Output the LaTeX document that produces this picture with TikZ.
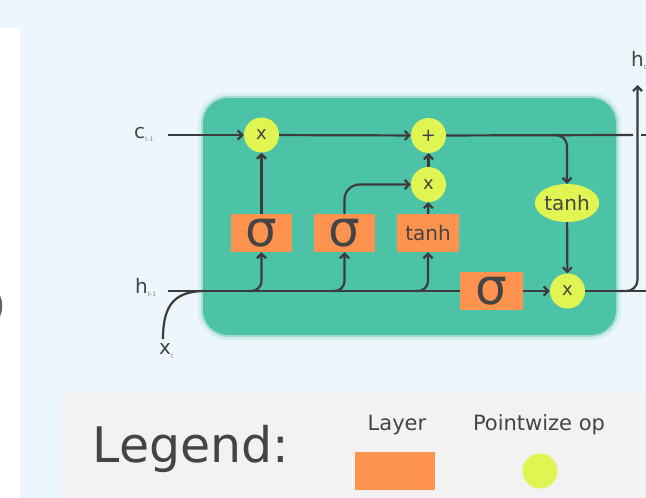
\documentclass[tikz,border=0pt]{standalone}
\usepackage{fontspec}
\setmainfont{DejaVu Sans}
\usetikzlibrary{arrows.meta,shapes.geometric}
\definecolor{bg}{HTML}{EEF6FD}
\definecolor{cellg}{HTML}{4CC2A6}
\definecolor{halo}{HTML}{A6DDD0}
\definecolor{halo2}{HTML}{D6F0EC}
\definecolor{opy}{HTML}{E1F552}
\definecolor{layo}{HTML}{FE9350}
\definecolor{ln}{HTML}{3C3C3C}
\definecolor{txt}{HTML}{444444}
\definecolor{legbg}{HTML}{F2F2F2}
\tikzset{
  wire/.style={draw=ln, line width=2.2pt},
  arr/.style={wire, -{Straight Barb[length=4.5pt,width=9pt]}},
  pw/.style={circle, fill=opy, minimum size=35pt, inner sep=0pt, text=txt, font=\fontsize{18}{18}\selectfont},
  layerbox/.style={rectangle, fill=layo, minimum width=61pt, minimum height=38pt, inner sep=0pt, text=txt},
  sig/.style={layerbox, font=\fontsize{50}{50}\selectfont},
  tnh/.style={layerbox, font=\fontsize{20}{20}\selectfont},
  lbl/.style={text=txt, inner sep=0pt, font=\fontsize{20}{20}\selectfont},
  subs/.style={font=\fontsize{6}{6}\selectfont, text=gray}
}
\begin{document}
\begin{tikzpicture}[x=1pt,y=-1pt]
\useasboundingbox (0,0) rectangle (646,498);
\clip (0,0) rectangle (646,498);
\fill[bg] (0,0) rectangle (646,498);
% white strip and arc of neighbouring panel
\fill[white] (0,28) rectangle (20,498);
\draw[ln, line width=2.5pt, opacity=0.8] (-24,306) circle (25);
% cell body
\fill[halo2, rounded corners=29] (198,93) rectangle (621,340);
\fill[halo, rounded corners=27] (201,96) rectangle (618,337);
\fill[cellg, rounded corners=25] (203,98) rectangle (616,335);
% legend panel
\fill[legbg, rounded corners=12] (62,392) rectangle (700,560);
% nodes
\node[pw] (m1) at (261.5,135) {x};
\node[pw] (plus) at (428.5,135.5) {+};
\node[pw] (m2) at (428.5,184.5) {x};
\node[pw] (m3) at (567.5,291) {x};
\node[ellipse, fill=opy, minimum width=62pt, minimum height=38pt, inner sep=0pt, text=txt, font=\fontsize{20}{20}\selectfont] (th2) at (567,203) {tanh};
\node[sig] (s1) at (261.5,233) {σ};
\node[sig] (s2) at (344.5,233) {σ};
\node[tnh, minimum width=62pt] (tb) at (428,233) {tanh};
\node[sig, minimum width=63pt] (s4) at (491.5,291) {σ};
% labels
\node[lbl, anchor=west] (lc) at (134,134) {c\raisebox{-1pt}{\tikz[baseline]\node[subs,inner sep=0pt]{t-1};}};
\node[lbl, anchor=west] (lh) at (135,287) {h\raisebox{-1pt}{\tikz[baseline]\node[subs,inner sep=0pt]{t-1};}};
\node[lbl, anchor=west] (lx) at (159,351) {x\raisebox{-1pt}{\tikz[baseline]\node[subs,inner sep=0pt]{t};}};
\node[lbl, anchor=west] (lht) at (631,60) {h\raisebox{-1pt}{\tikz[baseline]\node[subs,inner sep=0pt]{t};}};
% coordinates
\coordinate (cin) at (168,135);
\coordinate (hin) at (168,291);
\coordinate (xin) at (163,339);
\coordinate (xjoin) at (206,291);
\coordinate (cgapl) at (633,135);
\coordinate (cgapr) at (641,135);
\coordinate (cend) at (646,135);
\coordinate (hend) at (646,291);
\coordinate (cbr) at (552,135);
\coordinate (hbr) at (618,291);
\coordinate (hout) at (637.5,85);
\coordinate (b1) at (248,291);
\coordinate (b2) at (331,291);
\coordinate (b3) at (415,291);
% cell state line
\draw[arr] (cin) -- (m1);
\draw[arr] (m1) -- (plus);
\draw[wire] (plus) -- (cgapl);
\draw[wire] (cgapr) -- (cend);
\draw[arr, rounded corners=11] (cbr) -| (th2.north);
\draw[arr] (th2) -- (m3);
% hidden line
\draw[wire] (hin) -- (s4);
\draw[arr] (s4) -- (m3);
\draw[wire] (m3) -- (hend);
\draw[arr, rounded corners=11] (hbr) -| (hout);
\draw[wire] (xin) .. controls (163,303) and (176,291) .. (xjoin);
% gates
\draw[arr, rounded corners=10] (b1) -| (s1.south);
\draw[arr, rounded corners=10] (b2) -| (s2.south);
\draw[arr, rounded corners=10] (b3) -| (tb.south);
\draw[arr] (s1) -- (m1);
\draw[arr, rounded corners=15] (s2.north) |- (m2);
\draw[arr] (tb) -- (m2);
\draw[arr] (m2) -- (plus);
% legend
\node[text=txt, font=\fontsize{49}{49}\selectfont] (leg) at (191,449) {Legend:};
\node[text=txt, font=\fontsize{21}{21}\selectfont] (lay) at (397,425) {Layer};
\node[rectangle, fill=layo, minimum width=80pt, minimum height=38pt, inner sep=0pt] (layb) at (395,471) {};
\node[text=txt, font=\fontsize{21}{21}\selectfont] (pwt) at (539,425) {Pointwize op};
\node[circle, fill=opy, minimum size=35pt, inner sep=0pt] (pwc) at (540,471) {};
\end{tikzpicture}
\end{document}
